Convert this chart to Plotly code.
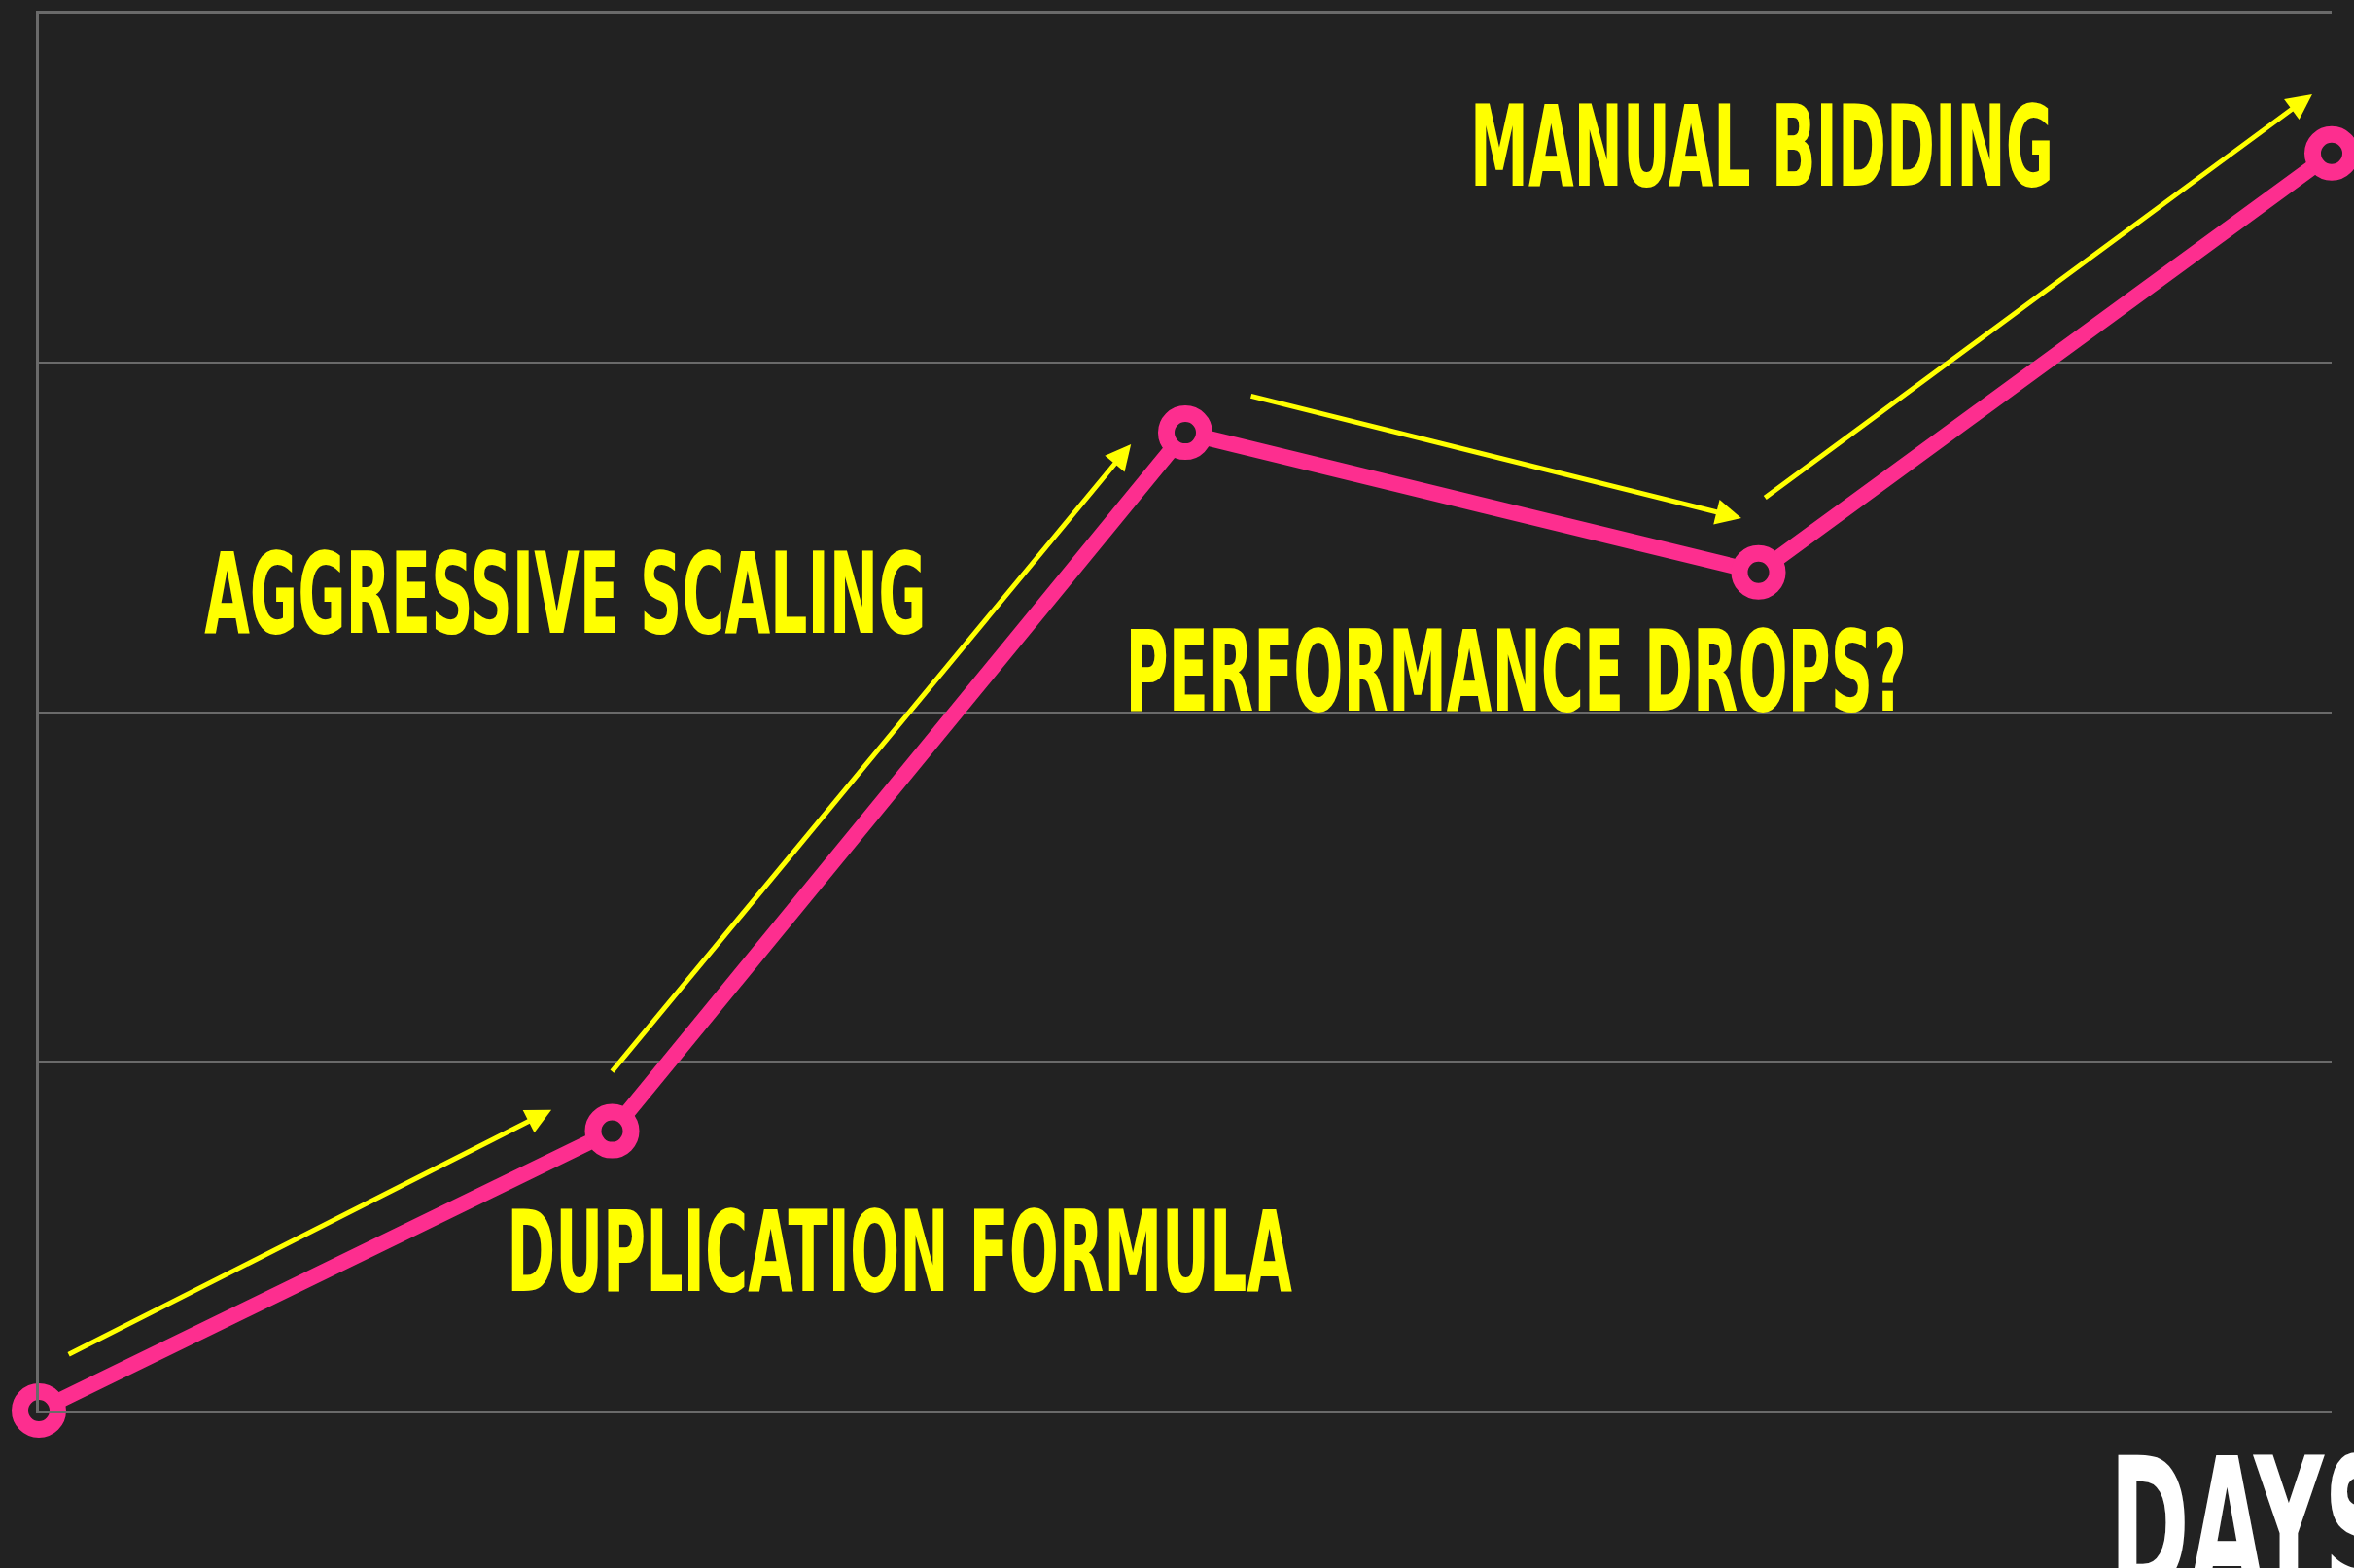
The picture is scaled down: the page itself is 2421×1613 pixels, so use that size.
import plotly.graph_objects as go

# ---------------- data ----------------
days = [0, 1, 2, 3, 4]
performance = [0.0, 0.8, 2.8, 2.4, 3.6]
phase_labels = ["DUPLICATION FORMULA", "AGGRESSIVE SCALING", "PERFORMANCE DROPS?", "MANUAL BIDDING"]
x_title = "DAYS"
y_ticks = [0, 1, 2, 3, 4]

# ---------------- layout constants ----------------
W, H = 2421, 1613
M_L, M_R, M_T, M_B = 40, 23, 14, 162
X_RANGE = [0, 4]
Y_RANGE = [0, 4]
BG = "#222222"
PINK = "#fd2e8f"
YELLOW = "#ffff00"
GRID = "#6a6a6a"
FONT = "Liberation Sans Narrow, DejaVu Sans Condensed, Arial Narrow, sans-serif"

# label centre positions (data coords) and font sizes
label_pos = [(1.501, 0.454), (0.918, 2.341), (2.578, 2.118), (3.006, 3.621)]
label_size = 116

# arrow styling: (t_start, offset_start_px, t_end, offset_end_px) for each segment
arrow_geom = [(0.078, 38.5, 0.929, 47.0),
              (0.049, 39.0, 0.952, 35.6),
              (0.091, 52.6, 0.950, 50.0),
              (0.067, 58.0, 1.027, 60.9)]

px_per_x = (W - M_L - M_R) / (X_RANGE[1] - X_RANGE[0])
px_per_y = (H - M_T - M_B) / (Y_RANGE[1] - Y_RANGE[0])

fig = go.Figure()
fig.add_trace(go.Scatter(
    x=days, y=performance, mode="lines+markers",
    line=dict(color=PINK, width=16),
    marker=dict(size=39, color=BG, line=dict(color=PINK, width=17)),
    cliponaxis=False, hoverinfo="skip", showlegend=False,
))

annotations = []
for i, (t0, o0, t1, o1) in enumerate(arrow_geom):
    x0, y0 = days[i], performance[i]
    x1, y1 = days[i + 1], performance[i + 1]
    dxp = (x1 - x0) * px_per_x
    dyp = (y1 - y0) * px_per_y
    L = (dxp ** 2 + dyp ** 2) ** 0.5
    nx, ny = -dyp / L, dxp / L  # left normal (upwards)
    tail = (x0 + t0 * (x1 - x0) + o0 * nx / px_per_x, y0 + t0 * (y1 - y0) + o0 * ny / px_per_y)
    head = (x0 + t1 * (x1 - x0) + o1 * nx / px_per_x, y0 + t1 * (y1 - y0) + o1 * ny / px_per_y)
    annotations.append(dict(
        x=head[0], y=head[1], ax=tail[0], ay=tail[1],
        xref="x", yref="y", axref="x", ayref="y",
        text="", showarrow=True, arrowhead=2, arrowsize=1.05,
        arrowwidth=5, arrowcolor=YELLOW, standoff=0,
    ))

for txt, (lx, ly) in zip(phase_labels, label_pos):
    annotations.append(dict(
        x=lx, y=ly, xref="x", yref="y", text=txt, showarrow=False,
        xanchor="center", yanchor="middle",
        font=dict(family=FONT, size=label_size, color=YELLOW, weight="bold"),
    ))

annotations.append(dict(
    x=0.9652, y=-0.0835, xref="paper", yref="paper", text=x_title, showarrow=False,
    xanchor="center", yanchor="middle",
    font=dict(family=FONT, size=190, color="#ffffff", weight="bold"),
))

fig.update_layout(
    width=W, height=H, autosize=False,
    margin=dict(l=M_L, r=M_R, t=M_T, b=M_B, pad=0),
    paper_bgcolor=BG, plot_bgcolor=BG,
    showlegend=False,
    annotations=annotations,
    xaxis=dict(range=X_RANGE, showgrid=False, zeroline=False, showticklabels=False,
               ticks="", showline=True, linecolor=GRID, linewidth=3, mirror=True,
               fixedrange=True),
    yaxis=dict(range=Y_RANGE, tickvals=y_ticks, showgrid=True, gridcolor=GRID, gridwidth=2,
               zeroline=False, showticklabels=False, ticks="", showline=True,
               linecolor=GRID, linewidth=3, fixedrange=True),
)

post = """
document.body.style.margin = '0';
document.body.style.background = '#222222';
var gd = document.getElementById('{plot_id}');
var S = {'DAYS': 0.58};
var D = 0.577;
gd.querySelectorAll('g.annotation text.annotation-text').forEach(function(t){
  var txt = t.textContent;
  if(!txt) return;
  var s = (txt in S) ? S[txt] : D;
  var b = t.getBBox();
  var cx = b.x + b.width / 2;
  t.setAttribute('transform', 'translate(' + (cx * (1 - s)) + ',0) scale(' + s + ',1)');
});
"""

fig.write_html("out.html", config={"displayModeBar": False}, post_script=post)
